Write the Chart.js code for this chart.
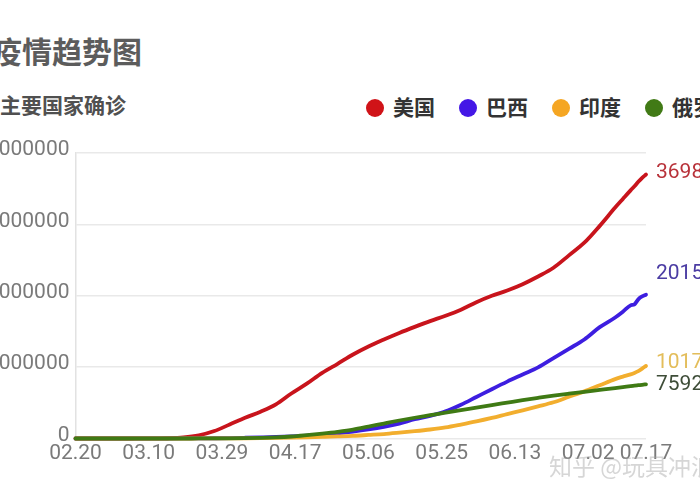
<!DOCTYPE html>
<html>
<head>
<meta charset="utf-8">
<script src="https://cdn.jsdelivr.net/npm/chart.js@4.4.1/dist/chart.umd.min.js"></script>
<style>
  html, body { margin: 0; padding: 0; background: #fff; }
  body { width: 700px; height: 500px; overflow: hidden; position: relative; font-family: 'Noto Sans CJK SC', 'Noto Sans', sans-serif; }
  #title { position: absolute; left: -8px; top: 31px; font-size: 30px; line-height: 38px; font-weight: bold; color: #5c5c5c; white-space: nowrap; }
  #subtitle { position: absolute; left: 0px; top: 92px; font-size: 21px; line-height: 24px; font-weight: bold; color: #505050; white-space: nowrap; }
  #legend { position: absolute; left: 366px; top: 93px; display: flex; align-items: center; white-space: nowrap; }
  .item { display: flex; align-items: center; margin-right: 24px; }
  .dot { width: 18px; height: 18px; border-radius: 50%; margin-right: 9px; margin-top: 3px; }
  .name { font-size: 21px; line-height: 26px; font-weight: bold; color: #333; }
  #wrap { position: absolute; left: -60px; top: 130px; width: 780px; height: 340px; }
  #mark { position: absolute; left: 549px; top: 450px; font-size: 23px; line-height: 30px; color: rgba(165, 165, 165, 0.45); white-space: nowrap; }
</style>
</head>
<body>
<div id="title">疫情趋势图</div>
<div id="subtitle">主要国家确诊</div>
<div id="legend"></div>
<div id="wrap"><canvas id="trend"></canvas></div>
<div id="mark">知乎 @玩具冲浪</div>
<script>
// days since 02.20
const days = [0, 4, 8, 12, 16, 20, 24, 28, 32, 36, 40, 44, 48, 52, 56, 60, 64, 68, 72, 76,
    80, 84, 88, 92, 96, 100, 104, 108, 112, 116, 120, 124, 128, 132, 136, 140,
    142, 144, 145, 146, 147, 148];

const tickDays = [0, 19, 38, 57, 76, 95, 114, 133, 148];
const tickLabels = ['02.20', '03.10', '03.29', '04.17', '05.06', '05.25', '06.13', '07.02', '07.17'];
const yTicks = [0, 1000000, 2000000, 3000000, 4000000];

const names = ['美国', '巴西', '印度', '俄罗斯'];

const usa = [15, 53, 60, 122, 435, 1301, 3680, 14250, 43700, 104000,
    196000, 290000, 375000, 478000, 630000, 768000, 920000, 1047000, 1177000, 1289000,
    1387000, 1479000, 1564000, 1645000, 1720000, 1805000, 1909000, 1999000, 2074000, 2162000,
    2270000, 2392000, 2566000, 2743000, 2979000, 3235000,
    3356000, 3476000, 3534000, 3596000, 3652000, 3698161];

const brazil = [0, 0, 1, 2, 19, 52, 200, 621, 1891, 3417,
    5717, 10278, 15927, 22169, 30425, 40743, 52995, 73235, 97100, 126611,
    162699, 209000, 270000, 318000, 380000, 473000, 582000, 691000, 797000, 897000,
    997000, 1126000, 1256000, 1388000, 1560000, 1696000,
    1777000, 1865000, 1880000, 1950000, 1990000, 2015334];

const india = [3, 3, 3, 5, 34, 62, 107, 194, 499, 887,
    1397, 3082, 5311, 8446, 12380, 17265, 23077, 29435, 37336, 49436,
    62000, 81000, 102000, 126000, 156000, 196000, 239000, 288000, 342000, 395000,
    450000, 508000, 584000, 660000, 746000, 832000,
    867000, 899000, 919000, 944000, 978000, 1017281];

const russia = [0, 2, 2, 3, 10, 28, 63, 199, 438, 1036,
    2337, 4731, 8672, 15770, 27938, 47121, 68622, 93558, 124054, 165929,
    209688, 252245, 290678, 326448, 362342, 396575, 432277, 467673, 502436, 537210,
    569063, 599705, 627646, 654405, 680283, 706240,
    719449, 733699, 739947, 746369, 752797, 759203];

const series = [usa, brazil, india, russia];
const lineColors = ['#c8141c', '#3d1ee0', '#f2ae2e', '#3f7a14'];
const dotColors = ['#d01318', '#4417e6', '#f5a623', '#417a16'];
const labelColors = ['#b8323a', '#4b3ca3', '#e3bd5a', '#3e4d38'];
const labelShift = [-2, -21, -3, 0];

// --- legend in html
const legend = document.getElementById('legend');
names.forEach(function (n, i) {
    const item = document.createElement('div');
    item.className = 'item';
    item.innerHTML = '<span class="dot" style="background:' + dotColors[i] + '"></span><span class="name">' + n + '</span>';
    legend.appendChild(item);
});

// --- value labels at the end of each line
const endLabels = {
    id: 'endLabels',
    afterDatasetsDraw(chart) {
        const ctx = chart.ctx;
        ctx.save();
        ctx.font = '21px Roboto';
        ctx.textBaseline = 'middle';
        ctx.textAlign = 'left';
        chart.data.datasets.forEach(function (ds, i) {
            const meta = chart.getDatasetMeta(i);
            const pt = meta.data[meta.data.length - 1];
            const last = ds.data[ds.data.length - 1].y;
            ctx.fillStyle = labelColors[i];
            ctx.fillText(String(last), pt.x + 10, pt.y + labelShift[i]);
        });
        ctx.restore();
    }
};

new Chart(document.getElementById('trend').getContext('2d'), {
    type: 'line',
    data: {
        datasets: series.map(function (vals, i) {
            return {
                label: names[i],
                data: vals.map(function (v, k) { return { x: days[k], y: v }; }),
                borderColor: lineColors[i],
                backgroundColor: lineColors[i],
                borderWidth: 3.8,
                borderCapStyle: 'round',
                borderJoinStyle: 'round',
                pointRadius: 0,
                cubicInterpolationMode: 'monotone',
                order: 3 - i,
                clip: 6
            };
        })
    },
    options: {
        responsive: true,
        maintainAspectRatio: false,
        animation: false,
        layout: { padding: { left: 0, right: 74, top: 23, bottom: 0 } },
        plugins: {
            legend: { display: false },
            tooltip: { enabled: false }
        },
        scales: {
            x: {
                type: 'linear',
                min: 0,
                max: 148,
                grid: { display: false, drawTicks: false },
                border: { display: false },
                afterBuildTicks: function (scale) {
                    scale.ticks = tickDays.map(function (d) { return { value: d }; });
                },
                afterFit: function (scale) { scale.height = 31.5; },
                ticks: {
                    autoSkip: false,
                    maxRotation: 0,
                    padding: 3,
                    color: '#7a7a7a',
                    font: { family: 'Roboto', size: 21 },
                    callback: function (value) {
                        const k = tickDays.indexOf(value);
                        return k >= 0 ? tickLabels[k] : '';
                    }
                }
            },
            y: {
                min: 0,
                max: 4000000,
                afterBuildTicks: function (scale) {
                    scale.ticks = yTicks.map(function (v) { return { value: v }; });
                },
                afterFit: function (scale) { scale.width = 135.5; },
                grid: { color: '#e9e9e9', lineWidth: 1.5, drawTicks: false },
                border: { display: true, color: '#e2e2e2', width: 1.5 },
                ticks: {
                    padding: 6,
                    labelOffset: -3,
                    color: '#7a7a7a',
                    font: { family: 'Roboto', size: 21 },
                    callback: function (value) { return String(value); }
                }
            }
        }
    },
    plugins: [endLabels]
});
</script>
</body>
</html>
